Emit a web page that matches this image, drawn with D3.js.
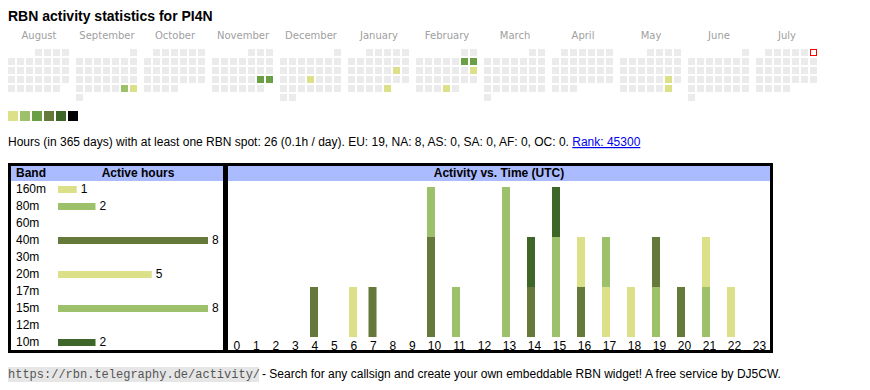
<!DOCTYPE html>
<html>
<head>
<meta charset="utf-8">
<script src="https://cdn.jsdelivr.net/npm/d3@7"></script>
<style>
body { margin: 0; background: #fff; }
svg { display: block; font-family: "Liberation Sans", Arial, sans-serif; }
</style>
</head>
<body>
<div id="chart"></div>
<script>
// Data
var monthNames = ["August", "September", "October", "November", "December", "January",
  "February", "March", "April", "May", "June", "July"]
var activeDays = ["2024-09-28", "2024-09-29", "2024-11-23", "2024-11-24", "2024-12-19",
  "2025-01-18", "2025-01-31", "2025-02-08", "2025-02-09", "2025-02-16", "2025-02-27",
  "2025-05-24", "2025-05-31"]
var activeLevels = [2, 1, 3, 3, 1, 1, 1, 3, 3, 1, 1, 1, 1]
var today = "2025-07-06"
var levelColors = ["#dce088", "#9dc16b", "#6a9f45", "#64793a", "#3d6628", "#000000"]

var bands = ["160m", "80m", "60m", "40m", "30m", "20m", "17m", "15m", "12m", "10m"]
var bandHours = [1, 2, 0, 8, 0, 5, 0, 8, 0, 2]
var bandColors = ["#dce088", "#9dc16b", "#9dc16b", "#64793a", "#64793a", "#dce088",
  "#dce088", "#9dc16b", "#3d6628", "#3d6628"]

var hours = d3.range(24)
// spots per hour (UTC) and band
var hour160 = [0,0,0,0,0,0,1,0,0,0,0,0,0,0,0,0,0,0,0,0,0,0,0,0]
var hour80  = [0,0,0,0,0,0,0,0,0,0,0,0,0,0,0,0,0,0,0,1,0,1,0,0]
var hour40  = [0,0,0,0,1,0,0,1,0,0,2,0,0,0,1,0,1,0,0,1,1,0,0,0]
var hour20  = [0,0,0,0,0,0,0,0,0,0,0,0,0,0,0,0,1,1,1,0,0,1,1,0]
var hour15  = [0,0,0,0,0,0,0,0,0,0,1,1,0,3,0,2,0,1,0,0,0,0,0,0]
var hour10  = [0,0,0,0,0,0,0,0,0,0,0,0,0,0,1,1,0,0,0,0,0,0,0,0]

var summary = "Hours (in 365 days) with at least one RBN spot: 26 (0.1h / day). EU: 19, NA: 8, AS: 0, SA: 0, AF: 0, OC: 0. "
var rankText = "Rank: 45300"

var width = 870, height = 390

var svg = d3.select("#chart").append("svg")
  .attr("width", width)
  .attr("height", height)

svg.append("text")
  .attr("x", 8).attr("y", 21)
  .attr("font-size", 14).attr("font-weight", "bold")
  .text("RBN activity statistics for PI4N")

// Calendar
var levelByDay = new Map(activeDays.map(function (d, i) { return [d, activeLevels[i]] }))
var fmt = d3.timeFormat("%Y-%m-%d")
var monthStarts = d3.timeMonths(new Date(2024, 7, 1), new Date(2025, 7, 1))
var monthX = d3.scaleBand().domain(d3.range(12)).range([8, 8 + 12 * 68]).paddingInner(0)
var colX = d3.scaleLinear().domain([0, 1]).range([0, 9])
var rowY = d3.scaleLinear().domain([0, 1]).range([49, 58])

var months = svg.selectAll("g.month")
  .data(monthStarts)
  .join("g")
  .attr("class", "month")
  .attr("transform", function (d, i) { return "translate(" + monthX(i) + ",0)" })

months.append("text")
  .attr("x", 31).attr("y", 39)
  .attr("text-anchor", "middle")
  .attr("font-family", "DejaVu Sans")
  .attr("font-size", 10)
  .attr("fill", "#a0a0a0")
  .text(function (d, i) { return monthNames[i] })

months.selectAll("rect")
  .data(function (m) { return d3.timeDays(m, d3.timeMonth.offset(m, 1)) })
  .join("rect")
  .attr("x", function (d) { return colX((d.getDay() + 6) % 7) })
  .attr("y", function (d) {
    var first = (d3.timeMonth(d).getDay() + 6) % 7
    return rowY(Math.floor((d.getDate() - 1 + first) / 7))
  })
  .attr("fill", function (d) {
    var lv = levelByDay.get(fmt(d))
    if (fmt(d) === today) return "#fff"
    return lv ? levelColors[lv - 1] : "#ebebeb"
  })
  .attr("stroke", function (d) { return fmt(d) === today ? "red" : null })
  .attr("transform", function (d) { return fmt(d) === today ? "translate(0.5,0.5)" : null })
  .attr("width", function (d) { return fmt(d) === today ? 6 : 7 })
  .attr("height", function (d) { return fmt(d) === today ? 6 : 7 })

// legend
svg.selectAll("rect.legend")
  .data(levelColors)
  .join("rect")
  .attr("class", "legend")
  .attr("x", function (d, i) { return 8 + i * 12 })
  .attr("y", 111)
  .attr("width", 10).attr("height", 10)
  .attr("fill", function (d) { return d })

var info = svg.append("text")
  .attr("x", 8).attr("y", 146)
  .attr("font-size", 12)
info.append("tspan").text(summary)
info.append("tspan")
  .attr("fill", "#0000ee")
  .attr("text-decoration", "underline")
  .text(rankText)

// Band table
svg.append("rect")
  .attr("x", 9.5).attr("y", 164.5)
  .attr("width", 215).attr("height", 187)
  .attr("fill", "none").attr("stroke", "#000").attr("stroke-width", 3)
svg.append("rect")
  .attr("x", 11).attr("y", 166)
  .attr("width", 212).attr("height", 15)
  .attr("fill", "#aabbff")
svg.append("text")
  .attr("x", 16).attr("y", 177)
  .attr("font-size", 12).attr("font-weight", "bold")
  .text("Band")
svg.append("text")
  .attr("x", 138).attr("y", 177)
  .attr("text-anchor", "middle")
  .attr("font-size", 12).attr("font-weight", "bold")
  .text("Active hours")

var bandY = d3.scaleBand().domain(bands).range([182, 352])
var hoursX = d3.scaleLinear().domain([0, 8]).range([58, 208])

var rows = svg.selectAll("g.band")
  .data(bands)
  .join("g")
  .attr("class", "band")
  .attr("transform", function (d) { return "translate(0," + bandY(d) + ")" })

rows.append("text")
  .attr("x", 16).attr("y", 11)
  .attr("font-size", 12)
  .text(function (d) { return d })

rows.filter(function (d, i) { return bandHours[i] > 0 })
  .append("rect")
  .attr("x", hoursX(0)).attr("y", 4)
  .attr("height", 7)
  .attr("width", function (d) { return hoursX(bandHours[bands.indexOf(d)]) - hoursX(0) })
  .attr("fill", function (d) { return bandColors[bands.indexOf(d)] })

rows.filter(function (d, i) { return bandHours[i] > 0 })
  .append("text")
  .attr("x", function (d) { return hoursX(bandHours[bands.indexOf(d)]) + 4 })
  .attr("y", 11)
  .attr("font-size", 12)
  .text(function (d) { return bandHours[bands.indexOf(d)] })

// Activity vs time
svg.append("rect")
  .attr("x", 226.5).attr("y", 164.5)
  .attr("width", 545).attr("height", 187)
  .attr("fill", "none").attr("stroke", "#000").attr("stroke-width", 3)
svg.append("rect")
  .attr("x", 228).attr("y", 166)
  .attr("width", 542).attr("height", 15)
  .attr("fill", "#aabbff")
svg.append("text")
  .attr("x", 499).attr("y", 177)
  .attr("text-anchor", "middle")
  .attr("font-size", 12).attr("font-weight", "bold")
  .text("Activity vs. Time (UTC)")

var colWidth = hours.map(function (h) { return String(h).length === 1 ? 19.5 : 25 })
var colLeft = d3.cumsum([227.5].concat(colWidth)).slice(0, 24)
var x = d3.scaleOrdinal().domain(hours).range(colLeft)
var y = d3.scaleLinear().domain([0, 3]).range([337, 187])

var table = hours.map(function (h) {
  return { hour: h, "160m": hour160[h], "80m": hour80[h], "60m": 0, "40m": hour40[h],
    "30m": 0, "20m": hour20[h], "17m": 0, "15m": hour15[h], "12m": 0, "10m": hour10[h] }
})
var series = d3.stack().keys(bands)(table)

svg.append("g")
  .selectAll("g")
  .data(series)
  .join("g")
  .attr("fill", function (s) { return bandColors[bands.indexOf(s.key)] })
  .selectAll("rect")
  .data(function (s) { return s.filter(function (p) { return p[1] > p[0] }) })
  .join("rect")
  .attr("x", function (p) { return x(p.data.hour) + 4.5 })
  .attr("y", function (p) { return y(p[1]) })
  .attr("width", 8)
  .attr("height", function (p) { return y(p[0]) - y(p[1]) })

svg.append("g")
  .selectAll("text")
  .data(hours)
  .join("text")
  .attr("x", function (h, i) { return x(h) + colWidth[i] / 2 - 0.5 })
  .attr("y", 350)
  .attr("text-anchor", "middle")
  .attr("font-size", 12)
  .text(function (h) { return h })

// footer
var link = "https://rbn.telegraphy.de/activity/"
svg.append("rect")
  .attr("x", 8).attr("y", 367)
  .attr("width", 251).attr("height", 15)
  .attr("fill", "#e6e6e6")
svg.append("text")
  .attr("x", 8).attr("y", 378)
  .attr("font-family", "Liberation Mono")
  .attr("font-size", 12)
  .attr("fill", "#555")
  .text(link)
svg.append("text")
  .attr("x", 262).attr("y", 378)
  .attr("font-size", 12)
  .text("- Search for any callsign and create your own embeddable RBN widget! A free service by DJ5CW.")
</script>
</body>
</html>
